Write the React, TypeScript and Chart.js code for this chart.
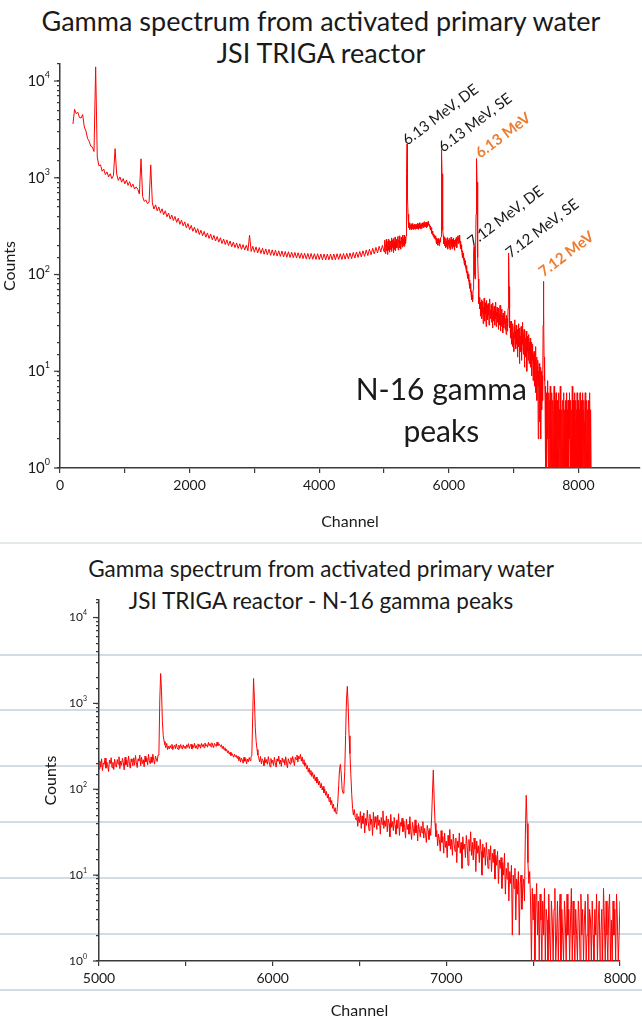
import { useEffect, useRef } from "react";
import { Chart, registerables } from "chart.js";

Chart.register(...registerables);

// ---------------- data ----------------
const TOP_TITLE = ["Gamma spectrum from activated primary water", "JSI TRIGA reactor"];
const BOTTOM_TITLE = ["Gamma spectrum from activated primary water", "JSI TRIGA reactor - N-16 gamma peaks"];
const X_TITLE = "Channel";
const Y_TITLE = "Counts";

// channels 200 .. 4975, every 25 channels
const LOW_START = 200;
const LOW_STEP = 25;
const lowCounts = [
  3600, 5100, 4600, 4750, 4200, 4150, 4500, 3350, 3050, 2550,
  2380, 2120, 2080, 1870, 14000, 1640, 1330, 1360, 1170, 1230,
  1080, 1150, 1020, 1100, 980, 1060, 2000, 1090, 940, 1020,
  900, 980, 865, 945, 835, 910, 800, 860, 765, 805,
  760, 680, 1570, 640, 570, 590, 540, 560, 1360, 550,
  475, 525, 455, 500, 435, 478, 415, 456, 395, 432,
  375, 412, 362, 398, 346, 382, 330, 365, 318, 350,
  304, 336, 291, 322, 280, 309, 270, 298, 259, 287,
  251, 279, 243, 269, 236, 262, 229, 254, 222, 247,
  216, 240, 209, 233, 204, 228, 199, 222, 194, 216,
  190, 212, 186, 208, 182, 204, 179, 201, 176, 255,
  173, 196, 170, 193, 167, 190, 165, 187, 162, 184,
  160, 182, 158, 180, 157, 178, 155, 176, 154, 175,
  152, 173, 151, 172, 150, 170, 149, 169, 148, 168,
  147, 167, 146, 166, 145, 165, 144, 165, 144, 164,
  143, 164, 143, 163, 142, 163, 142, 163, 142, 163,
  142, 163, 142, 164, 143, 164, 143, 165, 144, 166,
  145, 167, 146, 169, 148, 171, 150, 173, 152, 176,
  154, 179, 157, 183, 160, 187, 163, 191, 167, 196,
  171, 200,
];

// channels 5000 .. 6445, every 5 channels
const MID_START = 5000;
const MID_STEP = 5;
const midCounts = [
  172, 214, 181, 226, 165, 203, 195, 231, 176, 208, 187, 161, 219, 199, 233, 178, 206, 170, 224, 193,
  181, 222, 196, 239, 174, 213, 190, 229, 205, 168, 236, 193, 218, 182, 244, 201, 176, 226, 209, 188,
  232, 191, 247, 205, 179, 226, 214, 251, 188, 236, 199, 221, 183, 243, 208, 230, 192, 255, 215, 198,
  238, 205, 256, 219, 196, 243, 227, 210, 250, 260, 1100, 2230, 1400, 620, 420, 360, 330, 305, 342, 290,
  318, 296, 322, 301, 334, 289, 315, 327, 297, 338, 305, 291, 326, 299, 332, 310, 294, 329, 303, 318,
  297, 330, 308, 340, 299, 321, 335, 294, 327, 306, 344, 301, 324, 296, 338, 312, 331, 300, 342, 314,
  333, 305, 346, 318, 331, 309, 352, 322, 340, 312, 348, 327, 306, 343, 332, 315, 354, 323, 339, 328,
  314, 330, 298, 318, 288, 305, 278, 292, 266, 281, 256, 270, 247, 262, 251, 236, 256, 240, 249, 230,
  244, 215, 238, 207, 231, 219, 201, 236, 212, 228, 198, 225, 209, 234, 216, 240, 245, 700, 1950, 1100,
  520, 360, 290, 250, 232, 208, 241, 197, 226, 214, 188, 235, 203, 222, 195, 240, 209, 183, 228, 201,
  218, 190, 236, 205, 181, 226, 212, 244, 196, 219, 185, 231, 207, 223, 192, 239, 201, 178, 227, 210,
  196, 233, 205, 241, 214, 189, 236, 222, 251, 208, 243, 226, 255, 212, 238, 197, 221, 185, 203, 172,
  189, 158, 176, 149, 166, 141, 157, 133, 148, 125, 139, 118, 131, 112, 124, 104, 117, 98, 108, 91,
  101, 85, 94, 79, 88, 72, 81, 66, 74, 60, 67, 55, 61, 52, 55, 70, 110, 170, 195, 150,
  100, 90, 100, 160, 420, 1100, 1580, 900, 420, 260,
];

// channels 6450 .. 8200, every 5 channels
const TAIL_START = 6450;
const TAIL_STEP = 5;
const tailCounts = [
  150, 90, 60, 50, 58, 47, 44, 52, 37, 48, 41, 55, 35, 49, 40, 53, 31, 46, 38, 57,
  42, 33, 51, 39, 45, 29, 54, 36, 48, 41, 34, 50, 38, 44, 30, 47, 39, 56, 35, 43,
  37, 49, 32, 45, 40, 28, 51, 36, 42, 33, 47, 38, 30, 44, 35, 52, 29, 41, 37, 46,
  32, 43, 36, 27, 45, 34, 39, 30, 48, 33, 26, 41, 35, 29, 44, 31, 38, 25, 40, 34,
  28, 37, 31, 42, 27, 35, 30, 24, 38, 33, 26, 35, 29, 45, 90, 167, 75, 40, 28, 33,
  22, 30, 26, 19, 33, 24, 28, 18, 31, 21, 25, 16, 29, 22, 34, 20, 26, 17, 30, 23,
  19, 27, 14, 25, 21, 31, 18, 24, 12, 28, 20, 23, 16, 29, 22, 13, 26, 19, 32, 17,
  24, 15, 27, 20, 11, 25, 18, 22, 14, 26, 19, 10, 23, 16, 21, 13, 24, 17, 12, 20,
  15, 22, 11, 18, 14, 20, 9, 17, 13, 19, 8, 15, 12, 16, 7, 14, 10, 18, 6, 12,
  9, 14, 5, 11, 8, 13, 2, 10, 7, 12, 3, 9, 6, 11, 2, 8, 10, 4, 7, 9,
  5, 30, 85, 40, 14, 8, 11, 5, 1, 7, 3, 6, 1, 4, 8, 2, 5, 1, 6, 3,
  1, 5, 2, 7, 1, 4, 3, 1, 6, 2, 1, 5, 3, 1, 4, 7, 1, 2, 5, 1,
  3, 6, 1, 4, 2, 1, 5, 3, 1, 6, 2, 4, 1, 3, 7, 1, 5, 2, 1, 4,
  2, 1, 5, 3, 1, 6, 2, 4, 1, 3, 5, 1, 2, 6, 1, 4, 3, 1, 5, 2,
  1, 4, 2, 6, 1, 3, 5, 1, 2, 4, 1, 7, 3, 1, 5, 2, 1, 4, 6, 1,
  3, 1, 5, 2, 4, 1, 6, 3, 1, 2, 5, 1, 4, 3, 1, 6, 2, 1, 4, 5,
  1, 3, 6, 1, 2, 4, 1, 5, 3, 1, 2, 6, 1, 4, 2, 1, 5, 3, 1, 4,
  2, 1, 5, 1, 3, 6, 1, 2, 4, 1, 1,
];

const topXTicks = [0, 1000, 2000, 3000, 4000, 5000, 6000, 7000, 8000];
const topXLabels = [0, 2000, 4000, 6000, 8000];
const bottomXTicks = [5000, 5500, 6000, 6500, 7000, 7500, 8000];
const bottomXLabels = [5000, 6000, 7000, 8000];
const yDecades = [1, 10, 100, 1000, 10000];

const peakNotes = [
  { text: "6.13 MeV, DE", channel: 5360, counts: 2140, color: "#1a1a1a", bold: false },
  { text: "6.13 MeV, SE", channel: 5915, counts: 1810, color: "#1a1a1a", bold: false },
  { text: "6.13 MeV", channel: 6486, counts: 1570, color: "#ED7D31", bold: true },
  { text: "7.12 MeV, DE", channel: 6363, counts: 190, color: "#1a1a1a", bold: false },
  { text: "7.12 MeV, SE", channel: 6950, counts: 146, color: "#1a1a1a", bold: false },
  { text: "7.12 MeV", channel: 7460, counts: 93, color: "#ED7D31", bold: true },
];
const insetText = [
  { text: "N-16 gamma", channel: 5884, counts: 5.0 },
  { text: "peaks", channel: 5884, counts: 1.85 },
];

const spectrum = [
  ...lowCounts.map((c, i) => ({ x: LOW_START + i * LOW_STEP, y: c })),
  ...midCounts.map((c, i) => ({ x: MID_START + i * MID_STEP, y: c })),
  ...tailCounts.map((c, i) => ({ x: TAIL_START + i * TAIL_STEP, y: c })),
];

// ---------------- styling ----------------
const FONT = "Lato, 'Open Sans', sans-serif";
const AXIS = "#3a3a3a";
const TEXT = "#1a1a1a";
const pageRules = [542, 654, 709, 765, 821, 877, 933, 989];

function decadeLabelPlugin(size: number, right: number) {
  return {
    id: "decadeLabels",
    afterDraw(chart: any) {
      const ys = chart.scales.y;
      const ctx = chart.ctx;
      const left = chart.chartArea.left;
      ctx.save();
      ctx.fillStyle = TEXT;
      ctx.strokeStyle = AXIS;
      ctx.lineWidth = 1.2;
      ctx.textAlign = "right";
      ctx.textBaseline = "middle";
      yDecades.forEach((v) => {
        const py = ys.getPixelForValue(v);
        const exp = String(Math.round(Math.log10(v)));
        ctx.font = `${Math.round(size * 0.6)}px ${FONT}`;
        const sw = ctx.measureText(exp).width;
        ctx.fillText(exp, right, py - size * 0.38);
        ctx.font = `${size}px ${FONT}`;
        ctx.fillText("10", right - sw, py);
        ctx.beginPath();
        ctx.moveTo(left - 6, py);
        ctx.lineTo(left, py);
        ctx.stroke();
      });
      ctx.restore();
    },
  };
}

function notesPlugin(withNotes: boolean) {
  return {
    id: "peakNotes",
    afterDatasetsDraw(chart: any) {
      if (!withNotes) return;
      const { x, y } = chart.scales;
      const ctx = chart.ctx;
      peakNotes.forEach((n) => {
        ctx.save();
        ctx.translate(x.getPixelForValue(n.channel), y.getPixelForValue(n.counts));
        ctx.rotate((-37 * Math.PI) / 180);
        ctx.font = `${n.bold ? "bold " : ""}15px ${FONT}`;
        ctx.fillStyle = n.color;
        ctx.textAlign = "left";
        ctx.textBaseline = "alphabetic";
        ctx.fillText(n.text, 0, 0);
        ctx.restore();
      });
      ctx.save();
      ctx.font = `30px ${FONT}`;
      ctx.fillStyle = TEXT;
      ctx.textAlign = "center";
      ctx.textBaseline = "alphabetic";
      insetText.forEach((t) => {
        ctx.fillText(t.text, x.getPixelForValue(t.channel), y.getPixelForValue(t.counts));
      });
      ctx.restore();
    },
  };
}

type Setup = {
  xMin: number;
  xMax: number;
  xTicks: number[];
  xLabels: number[];
  yMax: number;
  padding: { left: number; right: number; top: number; bottom: number };
  yWidth: number;
  xHeight: number;
  tickFont: number;
  xTickPad: number;
  titleFont: number;
  xTitlePad: number;
  yTitlePad: number;
  decadeSize: number;
  decadeRight: number;
  notes: boolean;
};

function makeChart(canvas: HTMLCanvasElement, s: Setup) {
  return new Chart(canvas, {
    type: "line",
    data: {
      datasets: [
        {
          data: spectrum,
          borderColor: "#ff0000",
          borderWidth: 1,
          pointRadius: 0,
          tension: 0,
          fill: false,
        },
      ],
    },
    options: {
      animation: false,
      responsive: false,
      maintainAspectRatio: false,
      parsing: false,
      layout: { padding: s.padding },
      plugins: {
        legend: { display: false },
        tooltip: { enabled: false },
        title: { display: false },
      },
      scales: {
        x: {
          type: "linear",
          min: s.xMin,
          max: s.xMax,
          afterBuildTicks: (sc: any) => {
            sc.ticks = s.xTicks.map((v) => ({ value: v }));
          },
          afterFit: (sc: any) => {
            sc.height = s.xHeight;
          },
          border: { display: true, color: AXIS, width: 1.5 },
          grid: {
            display: true,
            drawOnChartArea: false,
            drawTicks: true,
            tickLength: 5,
            color: AXIS,
            tickColor: AXIS,
            lineWidth: 1.2,
          },
          ticks: {
            autoSkip: false,
            maxRotation: 0,
            minRotation: 0,
            padding: s.xTickPad,
            color: TEXT,
            font: { family: FONT, size: s.tickFont },
            callback: (v: any) => {
              const n = Math.round(Number(v));
              return s.xLabels.indexOf(n) >= 0 ? String(n) : "";
            },
          },
          title: {
            display: true,
            text: X_TITLE,
            color: TEXT,
            font: { family: FONT, size: s.titleFont },
            padding: { top: 0, bottom: s.xTitlePad },
          },
        },
        y: {
          type: "logarithmic",
          min: 1,
          max: s.yMax,
          afterFit: (sc: any) => {
            sc.width = s.yWidth;
          },
          border: { display: true, color: AXIS, width: 1.5 },
          grid: {
            display: true,
            drawOnChartArea: false,
            drawTicks: true,
            tickLength: 3,
            color: AXIS,
            tickColor: AXIS,
            lineWidth: 1.2,
          },
          ticks: {
            autoSkip: false,
            color: TEXT,
            font: { family: FONT, size: 10 },
            callback: () => "",
          },
          title: {
            display: true,
            text: Y_TITLE,
            color: TEXT,
            font: { family: FONT, size: s.titleFont },
            padding: { top: s.yTitlePad, bottom: 0 },
          },
        },
      },
    } as any,
    plugins: [decadeLabelPlugin(s.decadeSize, s.decadeRight), notesPlugin(s.notes)],
  });
}

export default function App() {
  const topRef = useRef<HTMLCanvasElement>(null);
  const botRef = useRef<HTMLCanvasElement>(null);

  useEffect(() => {
    const top = makeChart(topRef.current!, {
      xMin: 0,
      xMax: 8950,
      xTicks: topXTicks,
      xLabels: topXLabels,
      yMax: 15000,
      padding: { left: 0, right: 2, top: 64, bottom: 0 },
      yWidth: 60,
      xHeight: 72,
      tickFont: 14,
      xTickPad: 4,
      titleFont: 16,
      xTitlePad: 9,
      yTitlePad: 0,
      decadeSize: 15,
      decadeRight: 50,
      notes: true,
    });
    const bottom = makeChart(botRef.current!, {
      xMin: 5000,
      xMax: 8000,
      xTicks: bottomXTicks,
      xLabels: bottomXLabels,
      yMax: 16000,
      padding: { left: 0, right: 22, top: 60, bottom: 0 },
      yWidth: 99,
      xHeight: 63,
      tickFont: 14,
      xTickPad: 4,
      titleFont: 16,
      xTitlePad: 4,
      yTitlePad: 41,
      decadeSize: 12,
      decadeRight: 87,
      notes: false,
    });
    return () => {
      top.destroy();
      bottom.destroy();
    };
  }, []);

  const titleStyle = (top: number, size: number): any => ({
    position: "absolute",
    left: 0,
    width: 642,
    top,
    textAlign: "center",
    fontFamily: FONT,
    fontSize: size,
    lineHeight: "32px",
    color: TEXT,
    whiteSpace: "nowrap",
  });

  return (
    <div
      style={{
        position: "absolute",
        left: 0,
        top: 0,
        width: 642,
        height: 1024,
        background: "#ffffff",
        overflow: "hidden",
      }}
    >
      {pageRules.map((y) => (
        <div
          key={y}
          style={{
            position: "absolute",
            left: 0,
            top: y,
            width: 642,
            height: 2,
            background: y === 542 ? "#e3e8eb" : "#d3dce2",
          }}
        />
      ))}
      <div style={titleStyle(5, 27)}>
        {TOP_TITLE.map((t) => (
          <div key={t}>{t}</div>
        ))}
      </div>
      <div style={titleStyle(553, 22.5)}>
        {BOTTOM_TITLE.map((t) => (
          <div key={t}>{t}</div>
        ))}
      </div>
      <canvas
        ref={topRef}
        width={642}
        height={540}
        style={{ position: "absolute", left: 0, top: 0, width: 642, height: 540 }}
      />
      <canvas
        ref={botRef}
        width={642}
        height={484}
        style={{ position: "absolute", left: 0, top: 540, width: 642, height: 484 }}
      />
    </div>
  );
}
